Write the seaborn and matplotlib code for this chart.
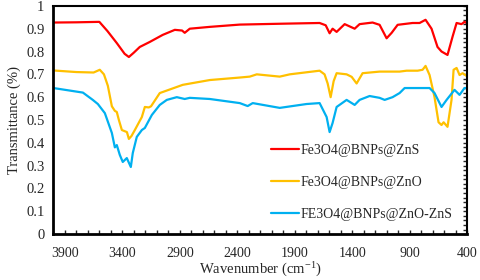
import numpy as np
import pandas as pd
import matplotlib
matplotlib.use("Agg")
import matplotlib.pyplot as plt
import seaborn as sns
from matplotlib.ticker import MultipleLocator, FixedLocator, FuncFormatter

wn_red = [4000, 3800, 3600, 3530, 3448, 3380, 3343, 3300, 3248, 3161,
          3048, 2943, 2880, 2857, 2813, 2639, 2378, 2000, 1683, 1630,
          1596, 1570, 1535, 1465, 1378, 1335, 1222, 1161, 1100, 1056,
          1004, 874, 813, 761, 709, 657, 622, 570, 526, 491,
          448, 422, 404]
t_red = [0.927, 0.928, 0.930, 0.89, 0.837, 0.79, 0.776, 0.795, 0.82, 0.842,
         0.873, 0.895, 0.892, 0.882, 0.9, 0.908, 0.918, 0.922, 0.925, 0.915,
         0.88, 0.9, 0.886, 0.92, 0.9, 0.92, 0.927, 0.917, 0.858, 0.882,
         0.917, 0.925, 0.925, 0.939, 0.9, 0.82, 0.8, 0.785, 0.865, 0.925,
         0.92, 0.93, 0.925]

wn_yel = [4000, 3800, 3650, 3596, 3560, 3526, 3491, 3465, 3448, 3430,
          3404, 3360, 3343, 3320, 3291, 3230, 3204, 3170, 3150, 3074,
          2874, 2639, 2378, 2291, 2230, 2030, 1943, 1683, 1640, 1613,
          1587, 1561, 1535, 1448, 1404, 1361, 1309, 1161, 987, 926,
          830, 787, 761, 726, 683, 648, 622, 604, 570, 535,
          517, 491, 465, 439, 404]
t_yel = [0.717, 0.71, 0.708, 0.72, 0.70, 0.65, 0.56, 0.54, 0.535, 0.50,
         0.456, 0.447, 0.417, 0.43, 0.456, 0.513, 0.557, 0.555, 0.56, 0.618,
         0.654, 0.675, 0.686, 0.69, 0.70, 0.69, 0.70, 0.716, 0.70, 0.66,
         0.60, 0.67, 0.705, 0.70, 0.689, 0.66, 0.705, 0.712, 0.712, 0.716,
         0.716, 0.72, 0.737, 0.697, 0.60, 0.49, 0.478, 0.49, 0.47, 0.588,
         0.72, 0.728, 0.697, 0.705, 0.693]

wn_blu = [4000, 3743, 3657, 3613, 3552, 3491, 3465, 3448, 3422, 3396,
          3361, 3326, 3309, 3274, 3230, 3204, 3143, 3074, 3013, 2926,
          2857, 2813, 2639, 2378, 2309, 2265, 2030, 1796, 1683, 1622,
          1596, 1570, 1535, 1448, 1378, 1335, 1248, 1161, 1117, 1048,
          987, 943, 726, 683, 622, 578, 509, 465, 422, 404]
t_blu = [0.64, 0.62, 0.588, 0.57, 0.53, 0.443, 0.38, 0.39, 0.347, 0.316,
         0.333, 0.294, 0.355, 0.426, 0.456, 0.465, 0.522, 0.566, 0.588, 0.60,
         0.592, 0.597, 0.592, 0.574, 0.561, 0.574, 0.553, 0.57, 0.574, 0.513,
         0.447, 0.487, 0.557, 0.588, 0.566, 0.588, 0.605, 0.597, 0.588, 0.60,
         0.618, 0.64, 0.64, 0.618, 0.557, 0.588, 0.632, 0.61, 0.64, 0.64]

amostras = ["Fe3O4@BNPs@ZnS", "Fe3O4@BNPs@ZnO", "FE3O4@BNPs@ZnO-ZnS"]
cores = ["#FF0000", "#FFC000", "#00B0F0"]

df = pd.concat([
    pd.DataFrame({"wn": wn_red, "T": t_red, "Amostra": amostras[0]}),
    pd.DataFrame({"wn": wn_yel, "T": t_yel, "Amostra": amostras[1]}),
    pd.DataFrame({"wn": wn_blu, "T": t_blu, "Amostra": amostras[2]}),
], ignore_index=True)

sns.set_style("white")
plt.rcParams["font.family"] = ["Liberation Serif", "DejaVu Serif"]
plt.rcParams["mathtext.fontset"] = "custom"
plt.rcParams["mathtext.rm"] = "Liberation Serif"
plt.rcParams["mathtext.default"] = "regular"

fig = plt.figure(figsize=(4.8, 2.8), dpi=100)
ax = fig.add_axes([0.110, 0.164, 0.863, 0.815])

sns.lineplot(data=df, x="wn", y="T", hue="Amostra", hue_order=amostras,
             palette=cores, linewidth=1.6, ax=ax, sort=False, estimator=None)

ax.set_xlim(4005, 400)
ax.set_ylim(0, 1)

ax.xaxis.set_major_locator(FixedLocator([3900, 3400, 2900, 2400, 1900, 1400, 900, 400]))
ax.xaxis.set_minor_locator(MultipleLocator(100))
ax.yaxis.set_major_locator(MultipleLocator(0.1))
ax.yaxis.set_major_formatter(FuncFormatter(lambda v, p: f"{v:g}"))
ax.yaxis.set_minor_locator(MultipleLocator(0.02))

ax.tick_params(axis="x", which="both", direction="in", length=3, width=1,
               bottom=True, top=False, labelsize=10, pad=9)
ax.tick_params(axis="y", which="major", left=False, right=True, direction="in",
               length=3, width=1, labelsize=10.5, pad=6)
ax.tick_params(axis="y", which="minor", left=False, right=True, direction="in",
               length=3, width=1)

for lado in ["left", "bottom"]:
    ax.spines[lado].set_linewidth(2)
for lado in ["top", "right"]:
    ax.spines[lado].set_linewidth(1.5)
for s in ax.spines.values():
    s.set_color("black")

ax.set_xlabel("Wavenumber (cm$^{-1}$)", fontsize=10.5, labelpad=1)
ax.set_ylabel("Transmittance (%)", fontsize=10.5, labelpad=4)

ax.legend(loc="upper left", bbox_to_anchor=(0.51, 0.425), frameon=False,
          fontsize=10, handlelength=2.0, handletextpad=0.1, labelspacing=1.35,
          borderpad=0)

fig.savefig("out.png", dpi=100)
